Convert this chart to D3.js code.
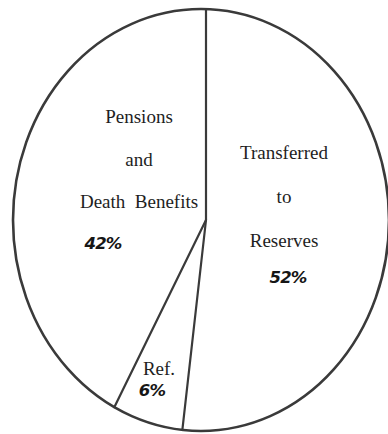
<!DOCTYPE html>
<html>
<head>
<meta charset="utf-8">
<script src="https://cdn.jsdelivr.net/npm/d3@7"></script>
<style>
  html, body { margin: 0; padding: 0; background: #fff; }
  svg { display: block; }
</style>
</head>
<body>
<svg id="chart" width="388" height="434"></svg>
<script>
// Slices, clockwise from 12 o'clock
const categories = ["Transferred to Reserves", "Refunds", "Pensions and Death Benefits"];
const shares = [52, 6, 42];
const labelLines = [
  ["Transferred", "to", "Reserves"],
  ["Ref."],
  ["Pensions", "and", "Death  Benefits"]
];

const W = 388, H = 434;
const svg = d3.select("#chart");
const serif = "'Liberation Serif', 'DejaVu Serif', serif";
const hand = "'DejaVu Sans', 'Liberation Sans', sans-serif";

// Outline ellipse and the hub the dividing lines radiate from
const ell = { cx: 201, cy: 220, rx: 188, ry: 211 };
const hub = { x: 206, y: 220 };

const pie = d3.pie().sort(null).value(d => d)(shares);

// Point where a ray from the hub at pie angle a meets the ellipse
function edgePoint(a) {
  const dx = Math.sin(a) * ell.rx, dy = -Math.cos(a) * ell.ry;
  const ox = (hub.x - ell.cx) / ell.rx, oy = (hub.y - ell.cy) / ell.ry;
  const ux = dx / ell.rx, uy = dy / ell.ry;
  const A = ux * ux + uy * uy, B = 2 * (ox * ux + oy * uy), C = ox * ox + oy * oy - 1;
  const t = (-B + Math.sqrt(B * B - 4 * A * C)) / (2 * A);
  return [hub.x + t * dx, hub.y + t * dy];
}

const g = svg.append("g");

g.append("ellipse")
  .attr("cx", ell.cx).attr("cy", ell.cy)
  .attr("rx", ell.rx).attr("ry", ell.ry)
  .attr("fill", "#fff")
  .attr("stroke", "#3a3a3a")
  .attr("stroke-width", 2.6);

const line = d3.line();
g.selectAll("path.divider")
  .data(pie)
  .join("path")
  .attr("class", "divider")
  .attr("d", d => line([[hub.x, hub.y], edgePoint(d.startAngle)]))
  .attr("fill", "none")
  .attr("stroke", "#3a3a3a")
  .attr("stroke-width", 2.2)
  .attr("stroke-linecap", "round");

// Label blocks placed relative to the hub
const labelLayout = [
  { dx: 78, y0: 159, step: 44, pdx: 82, py: 283 },
  { dx: -47, y0: 375, step: 20, pdx: -54, py: 396 },
  { dx: -67, y0: 123, step: 42.5, pdx: -103, py: 249 }
];

pie.forEach((d, i) => {
  const L = labelLayout[i];
  const t = g.append("text")
    .attr("font-family", serif)
    .attr("font-size", 19)
    .attr("fill", "#1e1e1e")
    .attr("text-anchor", "middle")
    .style("white-space", "pre");
  labelLines[i].forEach((s, j) => {
    t.append("tspan")
      .attr("x", hub.x + L.dx)
      .attr("y", L.y0 + j * L.step)
      .text(s);
  });
  g.append("text")
    .attr("font-family", hand)
    .attr("font-size", 16.5)
    .attr("font-style", "oblique")
    .attr("font-weight", 600)
    .attr("letter-spacing", -0.8)
    .attr("fill", "#161616")
    .attr("text-anchor", "middle")
    .attr("x", hub.x + L.pdx)
    .attr("y", L.py)
    .text(d.data + "%");
});
</script>
</body>
</html>
